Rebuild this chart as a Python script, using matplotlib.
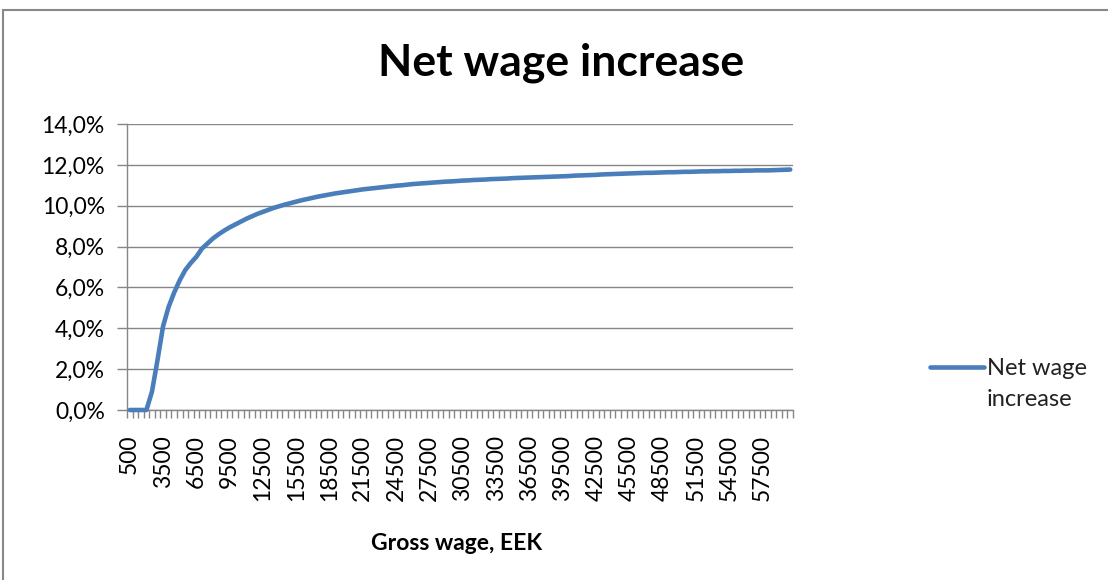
import matplotlib
matplotlib.use('Agg')
import matplotlib.pyplot as plt
from matplotlib.lines import Line2D
from matplotlib.patches import Rectangle
from matplotlib.ticker import FuncFormatter, FixedLocator

plt.rcParams['font.family'] = ['Lato', 'DejaVu Sans']

# gross wage categories (EEK), step 500
gross_wage = list(range(500, 60001, 500))

# net wage increase, %
net_increase = [
    0.0, 0.0, 0.0, 0.0, 0.9, 2.45, 4.1, 5.05, 5.75, 6.35,
    6.85, 7.2, 7.5, 7.9, 8.15, 8.4, 8.6, 8.78, 8.94, 9.08,
    9.22, 9.36, 9.48, 9.6, 9.7, 9.8, 9.9, 9.98, 10.06, 10.13,
    10.2, 10.27, 10.33, 10.39, 10.45, 10.5, 10.55, 10.6, 10.64, 10.68,
    10.72, 10.76, 10.8, 10.83, 10.86, 10.89, 10.92, 10.95, 10.98, 11.0,
    11.03, 11.06, 11.08, 11.1, 11.12, 11.14, 11.16, 11.18, 11.19, 11.21,
    11.23, 11.24, 11.26, 11.27, 11.28, 11.3, 11.31, 11.32, 11.33, 11.35,
    11.36, 11.37, 11.38, 11.39, 11.4, 11.41, 11.42, 11.43, 11.44, 11.45,
    11.47, 11.48, 11.49, 11.5, 11.51, 11.53, 11.54, 11.55, 11.56, 11.57,
    11.58, 11.59, 11.6, 11.61, 11.61, 11.62, 11.63, 11.64, 11.64, 11.65,
    11.66, 11.66, 11.67, 11.68, 11.68, 11.69, 11.69, 11.7, 11.7, 11.71,
    11.71, 11.72, 11.72, 11.73, 11.73, 11.73, 11.74, 11.75, 11.76, 11.77,
]

y_ticks = [0, 2, 4, 6, 8, 10, 12, 14]

fig = plt.figure(figsize=(11.08, 5.8), dpi=100)
ax = fig.add_axes([127 / 1108, 1 - 410 / 580, 666 / 1108, 286 / 580])

x = [i + 0.5 for i in range(len(gross_wage))]
line, = ax.plot(x, net_increase, color='#4A7EBB', lw=3.3,
                solid_joinstyle='round', solid_capstyle='round',
                clip_on=False, zorder=3)

ax.set_xlim(0, len(gross_wage))
ax.set_ylim(0, 14)

grid_col = '#868686'
ax.yaxis.set_major_locator(FixedLocator(y_ticks))
ax.yaxis.set_major_formatter(FuncFormatter(lambda v, p: f'{v:.1f}%'.replace('.', ',')))
ax.grid(axis='y', color=grid_col, lw=1.0)
ax.set_axisbelow(True)

# category labels every 6th category, ticks at category boundaries
lbl_idx = list(range(0, len(gross_wage), 6))
ax.set_xticks([i + 0.5 for i in lbl_idx])
ax.set_xticklabels([str(gross_wage[i]) for i in lbl_idx], rotation=90)
ax.set_xticks(range(len(gross_wage) + 1), minor=True)
ax.tick_params(axis='x', which='major', length=0, pad=18, labelsize=16.5, labelcolor='black')
ax.tick_params(axis='x', which='minor', length=6, color=grid_col, width=1)
ax.tick_params(axis='y', length=7, color=grid_col, width=1, labelsize=16.5, pad=9)

for s in ['top', 'right']:
    ax.spines[s].set_visible(False)
for s in ['left', 'bottom']:
    ax.spines[s].set_color(grid_col)
    ax.spines[s].set_linewidth(1.0)

fig.text(561 / 1108, 1 - 63 / 580, 'Net wage increase', ha='center', va='center',
         fontsize=32, fontweight='bold')
fig.text(457 / 1108, 1 - 543 / 580, 'Gross wage, EEK', ha='center', va='center',
         fontsize=16.5, fontweight='bold')

# legend: handle sits next to the first text line
blank = Line2D([], [], color='none')
leg = fig.legend(handles=[line, blank], labels=['Net wage', 'increase'],
                 loc='center left', bbox_to_anchor=(930 / 1108, 1 - 384 / 580),
                 frameon=False, fontsize=17, handlelength=2.3, handletextpad=0.1,
                 labelspacing=0.42, borderaxespad=0, borderpad=0)
for t in leg.get_texts():
    t.set_color('#222222')

# chart area border
fig.patches.append(Rectangle((3 / 1108, -0.05), 1.2, 1 - 10 / 580 + 0.05,
                             transform=fig.transFigure, fill=False,
                             ec='#888888', lw=1.5))

fig.savefig('out.png', dpi=100)
